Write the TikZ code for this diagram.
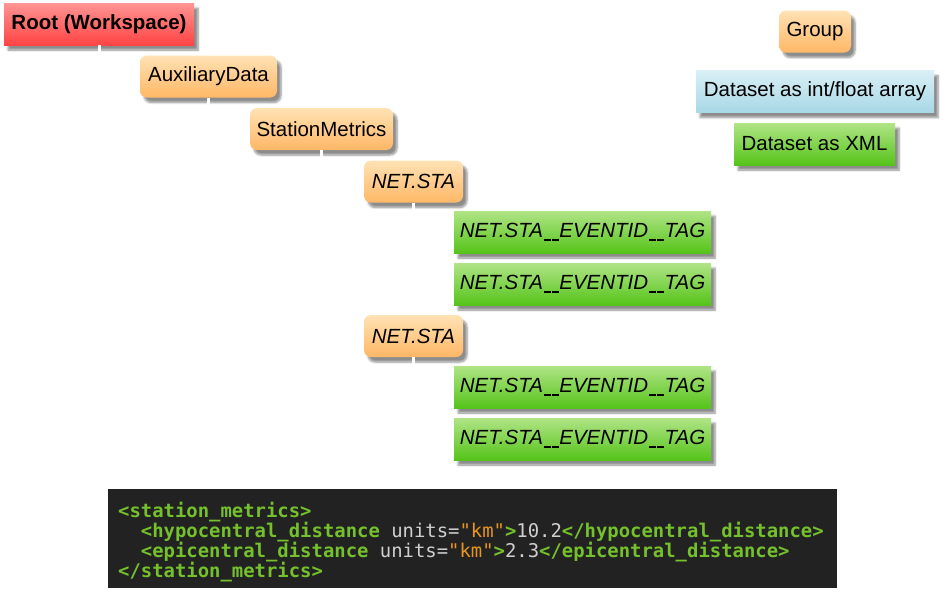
\documentclass[tikz,border=0pt]{standalone}
\usepackage{fontspec}
\setmainfont{Liberation Sans}
\newfontfamily\codefont{DejaVu Sans Mono}
\usetikzlibrary{shadows.blur}
\definecolor{rootTop}{HTML}{FF9494}
\definecolor{rootBot}{HTML}{FF4444}
\definecolor{grpTop}{HTML}{FFE2B4}
\definecolor{grpBot}{HTML}{FFB766}
\definecolor{xmlTop}{HTML}{B0E486}
\definecolor{xmlBot}{HTML}{55C41A}
\definecolor{arrTop}{HTML}{D9EFF6}
\definecolor{arrBot}{HTML}{A8D8E6}
\definecolor{codeBg}{HTML}{222222}
\definecolor{codeTag}{HTML}{74C12C}
\definecolor{codeTxt}{HTML}{CFCFCF}
\definecolor{codeStr}{HTML}{E8961E}
\tikzset{
  x=1pt, y=-1pt,
  box/.style={inner sep=0pt, minimum height=42pt, font=\fontsize{20.5}{24}\selectfont,
    blur shadow={shadow xshift=4pt, shadow yshift=-5pt, shadow blur steps=6, shadow opacity=45}},
  rootbox/.style={box, top color=rootTop, bottom color=rootBot, font=\fontsize{20.5}{24}\selectfont\bfseries},
  groupbox/.style={box, rounded corners=7pt, top color=grpTop, bottom color=grpBot},
  xmlbox/.style={box, top color=xmlTop, bottom color=xmlBot},
  arraybox/.style={box, top color=arrTop, bottom color=arrBot},
  link/.style={draw=white, line width=3pt},
}
% short underscore used in the dataset names
\newcommand{\us}{\kern0.6pt\rule[-3.6pt]{7pt}{1.5pt}\kern0.6pt}
\newcommand{\tagname}{\itshape NET.STA\us\us EVENTID\us\us TAG}
\newcommand{\tg}[1]{\textcolor{codeTag}{\bfseries #1}}
\newcommand{\tx}[1]{\textcolor{codeTxt}{#1}}
\newcommand{\st}[1]{\textcolor{codeStr}{#1}}
\begin{document}
\begin{tikzpicture}
\useasboundingbox (0,0) rectangle (946,600);

% hierarchy
\node[rootbox, minimum width=190pt] (root) at (99,24) {Root (Workspace)};
\node[groupbox, minimum width=137pt] (aux) at (208.5,76.5) {AuxiliaryData};
\node[groupbox, minimum width=143pt] (sm) at (321.5,129) {StationMetrics};
\node[groupbox, minimum width=99pt] (ns1) at (413.5,181.5) {\itshape NET.STA};
\node[xmlbox, minimum width=257pt] (t1) at (582.5,232) {\tagname};
\node[xmlbox, minimum width=257pt] (t2) at (582.5,284) {\tagname};
\node[groupbox, minimum width=99pt] (ns2) at (413.5,336) {\itshape NET.STA};
\node[xmlbox, minimum width=257pt] (t3) at (582.5,387) {\tagname};
\node[xmlbox, minimum width=257pt] (t4) at (582.5,439) {\tagname};

% legend
\node[groupbox, minimum width=72pt] (lgroup) at (815,31.5) {Group};
\node[arraybox, minimum width=238pt] (larray) at (815,91.5) {Dataset as int/float array};
\node[xmlbox, minimum width=161pt] (lxml) at (814.5,144) {Dataset as XML};

% tree links
\draw[link] (root.south) |- (aux.west);
\draw[link] (aux.south) |- (sm.west);
\draw[link] (sm.south) |- (ns1.west);
\draw[link] (sm.south) |- (ns2.west);
\draw[link] (ns1.south) |- (t1.west);
\draw[link] (ns1.south) |- (t2.west);
\draw[link] (ns2.south) |- (t3.west);
\draw[link] (ns2.south) |- (t4.west);

% XML sample
\node[fill=codeBg, minimum width=729pt, minimum height=99pt, inner sep=0pt] (code) at (472.5,538.5) {};
\node[anchor=north west, inner sep=0pt, align=left, font=\codefont\fontsize{18.9}{20}\selectfont] (codetext) at (118,502) {%
\tg{<station\_metrics>}\\
\tx{\ \ }\tg{<hypocentral\_distance}\tx{\ units=}\st{"km"}\tg{>}\tx{10.2}\tg{</hypocentral\_distance>}\\
\tx{\ \ }\tg{<epicentral\_distance}\tx{\ units=}\st{"km"}\tg{>}\tx{2.3}\tg{</epicentral\_distance>}\\
\tg{</station\_metrics>}};
\end{tikzpicture}
\end{document}
